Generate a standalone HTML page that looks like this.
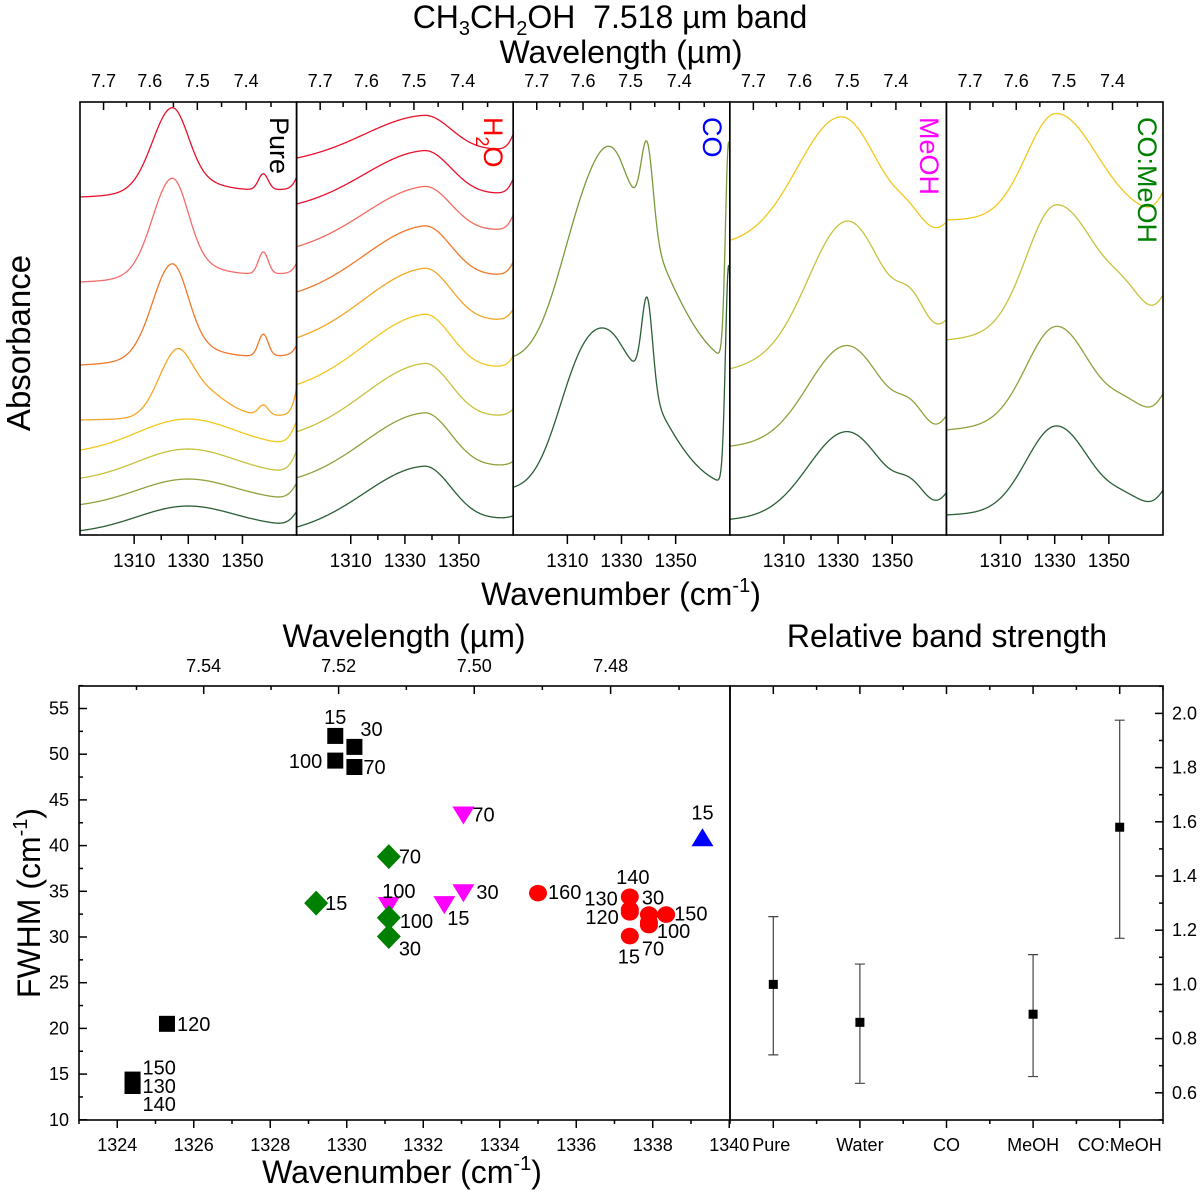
<!DOCTYPE html>
<html><head><meta charset="utf-8"><style>
html,body{margin:0;padding:0;background:#fff;}
svg{display:block;font-family:"Liberation Sans",Arial,sans-serif;}
</style></head><body>
<svg id="fig" xmlns="http://www.w3.org/2000/svg" width="1200" height="1194" viewBox="0 0 1200 1194">
<rect x="0" y="0" width="1200" height="1194" fill="#fff"/>
<text x="610" y="28" font-size="32" text-anchor="middle" xml:space="preserve" style="white-space:pre">CH<tspan font-size="20" dy="7">3</tspan><tspan dy="-7">CH</tspan><tspan font-size="20" dy="7">2</tspan><tspan dy="-7">OH  7.518 µm band</tspan></text>
<text x="621" y="63" font-size="32" text-anchor="middle">Wavelength (µm)</text>
<text transform="translate(30,343) rotate(-90)" font-size="33" text-anchor="middle">Absorbance</text>
<text x="621" y="605" font-size="32" text-anchor="middle">Wavenumber (cm<tspan font-size="20" dy="-13">-1</tspan><tspan dy="13">)</tspan></text>
<text x="404" y="647" font-size="32" text-anchor="middle">Wavelength (µm)</text>
<text x="947" y="647" font-size="32" text-anchor="middle">Relative band strength</text>
<text transform="translate(40,903) rotate(-90)" font-size="32" text-anchor="middle">FWHM (cm<tspan font-size="20" dy="-13">-1</tspan><tspan dy="13">)</tspan></text>
<text x="402" y="1183" font-size="32" text-anchor="middle">Wavenumber (cm<tspan font-size="20" dy="-13">-1</tspan><tspan dy="13">)</tspan></text>
<g id="g"></g>
</svg>
<script>
// ---------- Top panel spectra data (base [A at 1290, A at 1370], peaks [center, amp, wLeft, wRight]) ----------
const pureBase = [[338,346],[253,262],[170,180],[115,120],[82,88],[54,60],[28,34],[2,8]];
const purePeaks = [
 [[1324,68,7,5.8],[1325,18,10,12],[1357.7,16,1.8,1.8],[1375,48,3,3]],
 [[1324,82,7,5.8],[1325,18,10,12],[1357.7,22,1.8,1.8],[1375,40,3,3]],
 [[1324,79,7,5.8],[1325,18,10,12],[1357.7,22,1.8,1.8],[1375,40,3,3]],
 [[1325,53,6.5,5.5],[1334,28,8,9],[1357.7,10,1.8,1.8],[1375,110,3,3]],
 [[1329,31,18,18],[1375,52,4,4]],
 [[1329,29,18,18],[1375,48,4,4]],
 [[1329,25,18,18],[1375,35,4,4]],
 [[1329,24,18,18],[1375,30,4,4]]];
const h2oBase = [[373,386],[326,342],[283,306],[237,261],[191,216],[144,169],[97,120],[51,70],[2,17]];
const h2oAmp = [39,49,52,58,61,62,61,60,58];
const h2oRise = [36,34,34,29,24,24,15,8,5];
const coBase = [[174,163],[45,45]];
const coPeaks = [
 [[1316,130,10,10],[1330,155,9,17],[1339.5,85,2.2,2.2],[1369.6,220,1.2,1.2]],
 [[1314,95,9,9],[1329,125,10,16],[1339.5,90,2,2],[1369.6,220,1.2,1.2]]];
const meohBase = [[290,298],[165,200],[88,100],[15,25]];
const meohPeaks = [
 [[1331,124,16,14],[1356,12,5,5],[1374,20,4,4]],
 [[1333,130,14,13],[1357,28,5,5],[1374,20,4,4]],
 [[1333,95,14,13],[1357,20,5,5],[1374,28,4,4]],
 [[1333,83,14,13],[1357,18,5,5],[1374,25,4,4]]];
const comBase = [[315,318],[195,215],[105,122],[20,28]];
const comPeaks = [
 [[1330.5,105,11,15],[1374,36,4,4]],
 [[1330.5,125,11,15],[1356,15,6,6],[1374,33,4,4]],
 [[1330.5,95,11,12],[1356,10,6,6],[1374,30,4,4]],
 [[1330.5,85,11,12],[1356,8,6,6],[1374,26,4,4]]];
const panelNames = ['Pure','H2O','CO','MeOH','CO:MeOH'];
const topWlTicks = [7.7,7.6,7.5,7.4];
const topWnTicks = [1310,1330,1350];

// ---------- Bottom scatter data ----------
const pureX = [1329.7,1330.2,1329.7,1330.2,1325.3,1324.4,1324.4,1324.4];
const pureY = [52.0,50.8,49.3,48.6,20.5,14.4,13.7,13.7];
const pureLbl = ['15','30','100','70','120','150','130','140'];
const h2oX = [1329.2,1331.1,1331.1,1331.1];
const h2oY = [33.7,38.8,32.1,30.05];
const h2oLbl = ['15','70','100','30'];
const meohX = [1333.05,1333.05,1332.55,1331.1];
const meohY = [43.4,34.9,33.6,33.5];
const meohLbl = ['70','30','15','100'];
const coX = [1339.3];
const coY = [40.8];
const coLbl = ['15'];
const comX = [1335.0,1337.4,1337.4,1337.4,1337.9,1338.35,1337.9,1337.9,1337.4];
const comY = [34.8,34.4,33.0,32.7,32.45,32.45,31.3,31.6,30.1];
const comLbl = ['160','140','130','120','30','150','100','70','15'];
const fwhmTicks = [10,15,20,25,30,35,40,45,50,55];
const wnTicks = [1324,1326,1328,1330,1332,1334,1336,1338,1340];
const wlTicks = [7.54,7.52,7.50,7.48];

// ---------- Relative band strength ----------
const cats = ['Pure','Water','CO','MeOH','CO:MeOH'];
const rsVal = [1.0,0.86,null,0.89,1.58];
const rsLo = [0.74,0.635,null,0.66,1.17];
const rsHi = [1.25,1.075,null,1.11,1.975];
const rsTicks = [0.6,0.8,1.0,1.2,1.4,1.6,1.8,2.0];

// ---------- label offsets (styling) ----------
const pureOff = [[0,-12,'middle'],[6,-11,'start'],[-13,7.5,'end'],[9,7,'start'],[10,7,'start'],[10,-5,'start'],[10,7,'start'],[10,25,'start']];
const h2oOff = [[9,7,'start'],[10,7,'start'],[11,10,'start'],[10,19,'start']];
const meohOff = [[9,7,'start'],[13,7,'start'],[3,21,'start'],[10,-7,'middle']];
const coOff = [[0,-19,'middle']];
const comOff = [[10,6,'start'],[3,-13,'middle'],[-12,-4,'end'],[-11,11.5,'end'],[-7,-10,'start'],[8,6,'start'],[8,13,'start'],[-7,33,'start'],[-12,27.5,'start']];

const NS='http://www.w3.org/2000/svg';
const G=document.getElementById('g');
function mk(tag, attrs, parent){const e=document.createElementNS(NS,tag);for(const k in attrs)e.setAttribute(k,attrs[k]);(parent||G).appendChild(e);return e;}

// top scales
const PW=216.6, TOP=102, BOT=535;
function xTop(p,nu){return 80+p*PW+(nu-1290)*PW/80;}
function yTop(A){return BOT-A;}
function model(nu,base,peaks){let A=base[0]+(base[1]-base[0])*(nu-1290)/80;for(const pk of peaks){const w=nu<pk[0]?pk[2]:pk[3];A+=pk[1]*Math.exp(-0.5*Math.pow((nu-pk[0])/w,2));}return A;}
const defs=mk('defs',{});
for(let p=0;p<5;p++){const cp=mk('clipPath',{id:'cp'+p},defs);mk('rect',{x:80+p*PW,y:TOP,width:PW,height:BOT-TOP},cp);}
function drawCurve(p,base,peaks,color){
  let d='';for(let k=0;k<=405;k++){const nu=1290+k*0.2;d+=(d?'L':'M')+xTop(p,nu).toFixed(2)+','+yTop(model(nu,base,peaks)).toFixed(2);}
  const e=mk('path',{d:d,fill:'none',stroke:color,'stroke-width':1.3,'clip-path':'url(#cp'+p+')'});
  
  
}
const c8=['#e8112d','#f46b6b','#f0782a','#f5a623','#f2c81c','#c6c23c','#8ea23c','#2b5e36'];
const c9=['#e8112d','#e8112d','#f46b5e','#f0782a','#f5a623','#f2c81c','#c6c23c','#8ea23c','#2b5e36'];
const c4=['#f2c81c','#c6c23c','#8ea23c','#2b5e36'];
pureBase.forEach((b,i)=>drawCurve(0,b,purePeaks[i],c8[i]));
h2oBase.forEach((b,i)=>drawCurve(1,b,[[1337,h2oAmp[i],22,10],[1374,h2oRise[i],3,3]],c9[i]));
coBase.forEach((b,i)=>drawCurve(2,b,coPeaks[i],['#7a9a3a','#2b5e36'][i]));
meohBase.forEach((b,i)=>drawCurve(3,b,meohPeaks[i],c4[i]));
comBase.forEach((b,i)=>drawCurve(4,b,comPeaks[i],c4[i]));

// top panel frames and ticks
for(let p=0;p<5;p++){
  const f=mk('rect',{x:80+p*PW,y:TOP,width:PW,height:BOT-TOP,fill:'none',stroke:'#000','stroke-width':1.6});
  
  
  for(let l=7.70;l>=7.349;l-=0.05){const x=xTop(p,1e4/l);const major=Math.abs(l*10-Math.round(l*10))<1e-6;mk('line',{x1:x,x2:x,y1:TOP,y2:TOP+(major?8:5),stroke:'#000','stroke-width':1.5});}
  topWlTicks.forEach(l=>{const t=mk('text',{x:xTop(p,1e4/l),y:87,'font-size':18,'text-anchor':'middle'});t.textContent=l.toFixed(1);
    
    });
  for(let nu=1310;nu<=1350;nu+=10){const x=xTop(p,nu);const major=nu%20===10;mk('line',{x1:x,x2:x,y1:BOT,y2:BOT+(major?9:5),stroke:'#000','stroke-width':1.5});}
  topWnTicks.forEach(nu=>{const t=mk('text',{x:xTop(p,nu),y:567,'font-size':19,'text-anchor':'middle'});t.textContent=nu;
    
    });
}
// panel labels
const plx=[270,484,703,920,1138], plc=['#000','#ff0000','#0000ff','#ff00ff','#008000'];
for(let p=0;p<5;p++){
  const t=mk('text',{transform:'translate('+plx[p]+',117) rotate(90)','font-size':27,fill:plc[p]});
  if(p===1){t.innerHTML='H<tspan font-size="18" dy="8">2</tspan><tspan dy="-8">O</tspan>';}else t.textContent=panelNames[p];
  
  
}

// bottom scatter scales
function xB(nu){return 79+(nu-1323)*38.25;}
function yB(f){return 708.5+(55-f)*9.14;}
const BT=686, BB=1120;
const fr=mk('rect',{x:79,y:BT,width:651,height:BB-BT,fill:'none',stroke:'#000','stroke-width':1.6});


for(let v=10;v<=57.5;v+=2.5){const y=yB(v);const major=v%5===0;mk('line',{x1:79,x2:79+(major?8:4),y1:y,y2:y,stroke:'#000','stroke-width':1.5});}
fwhmTicks.forEach(v=>{const t=mk('text',{x:69,y:yB(v)+6,'font-size':18,'text-anchor':'end'});t.textContent=v;
  
  });
for(let nu=1323;nu<=1340;nu++){const x=xB(nu);const major=nu%2===0;mk('line',{x1:x,x2:x,y1:BB,y2:BB+(major?8:4),stroke:'#000','stroke-width':1.5});}
wnTicks.forEach(nu=>{const t=mk('text',{x:xB(nu),y:1151,'font-size':18,'text-anchor':'middle'});t.textContent=nu;
  
  });
for(let l=7.55;l>=7.465;l-=0.01){const x=xB(1e4/l);const major=Math.round(l*100)%2===0;mk('line',{x1:x,x2:x,y1:BT,y2:BT+(major?8:4),stroke:'#000','stroke-width':1.5});}
wlTicks.forEach(l=>{const t=mk('text',{x:xB(1e4/l),y:672,'font-size':18,'text-anchor':'middle'});t.textContent=l.toFixed(2);
  
  });

function marker(kind,x,y,color){
  let e;
  if(kind==='square')e=mk('rect',{x:x-8,y:y-8,width:16,height:16,fill:color});
  else if(kind==='diamond')e=mk('path',{d:`M${x},${y-12.5}L${x+12},${y}L${x},${y+12.5}L${x-12},${y}Z`,fill:color});
  else if(kind==='down')e=mk('path',{d:`M${x-11},${y-8}L${x+11},${y-8}L${x},${y+10}Z`,fill:color});
  else if(kind==='up')e=mk('path',{d:`M${x-11},${y+8}L${x+11},${y+8}L${x},${y-10}Z`,fill:color});
  else e=mk('ellipse',{cx:x,cy:y,rx:9,ry:8.3,fill:color});
  return e;
}
function drawSeries(name,xs,ys,lbls,offs,kind,color){
  xs.forEach((v,i)=>{const x=xB(v),y=yB(ys[i]);
    const m=marker(kind,x,y,color);
    
    
  });
  xs.forEach((v,i)=>{const x=xB(v),y=yB(ys[i]);const o=offs[i];
    const t=mk('text',{x:x+o[0],y:y+o[1],'font-size':20,'text-anchor':o[2]});t.textContent=lbls[i];
    
    
  });
}
drawSeries('pure',pureX,pureY,pureLbl,pureOff,'square','#000');
drawSeries('meoh',meohX,meohY,meohLbl,meohOff,'down','#ff00ff');
drawSeries('h2o',h2oX,h2oY,h2oLbl,h2oOff,'diamond','#008000');
drawSeries('co',coX,coY,coLbl,coOff,'up','#0000ff');
drawSeries('co-meoh',comX,comY,comLbl,comOff,'circle','#ff0000');

// relative band strength
function xR(i){return 730+(i+0.5)*86.6;}
function yR(v){return 713.4+(2.0-v)*271;}
const fr2=mk('rect',{x:730,y:BT,width:433,height:BB-BT,fill:'none',stroke:'#000','stroke-width':1.6});


for(let k=0;k<=10;k++){const x=730+k*43.3;const major=k%2===1;mk('line',{x1:x,x2:x,y1:BB,y2:BB+(major?8:4),stroke:'#000','stroke-width':1.5});mk('line',{x1:x,x2:x,y1:BT,y2:BT+(major?8:4),stroke:'#000','stroke-width':1.5});}
for(let v=0.5;v<=2.101;v+=0.1){const y=yR(v);const major=Math.round(v*10)%2===0;mk('line',{x1:1163,x2:1163-(major?8:4),y1:y,y2:y,stroke:'#000','stroke-width':1.5});}
rsTicks.forEach(v=>{const t=mk('text',{x:1172,y:yR(v)+6,'font-size':18});t.textContent=v.toFixed(1);
  
  });
cats.forEach((c,i)=>{const t=mk('text',{x:xR(i)+(i===0?-2:0),y:1151,'font-size':18,'text-anchor':'middle'});t.textContent=c;
  
  });
rsVal.forEach((v,i)=>{if(v===null)return;const x=xR(i);
  const eb=mk('path',{d:`M${x},${yR(rsLo[i])}L${x},${yR(rsHi[i])}M${x-5},${yR(rsLo[i])}L${x+5},${yR(rsLo[i])}M${x-5},${yR(rsHi[i])}L${x+5},${yR(rsHi[i])}`,stroke:'#444','stroke-width':1.2,fill:'none'});
  
  
  const m=mk('rect',{x:x-4.5,y:yR(v)-4.5,width:9,height:9,fill:'#000'});
  
  
});
</script>
</body></html>
